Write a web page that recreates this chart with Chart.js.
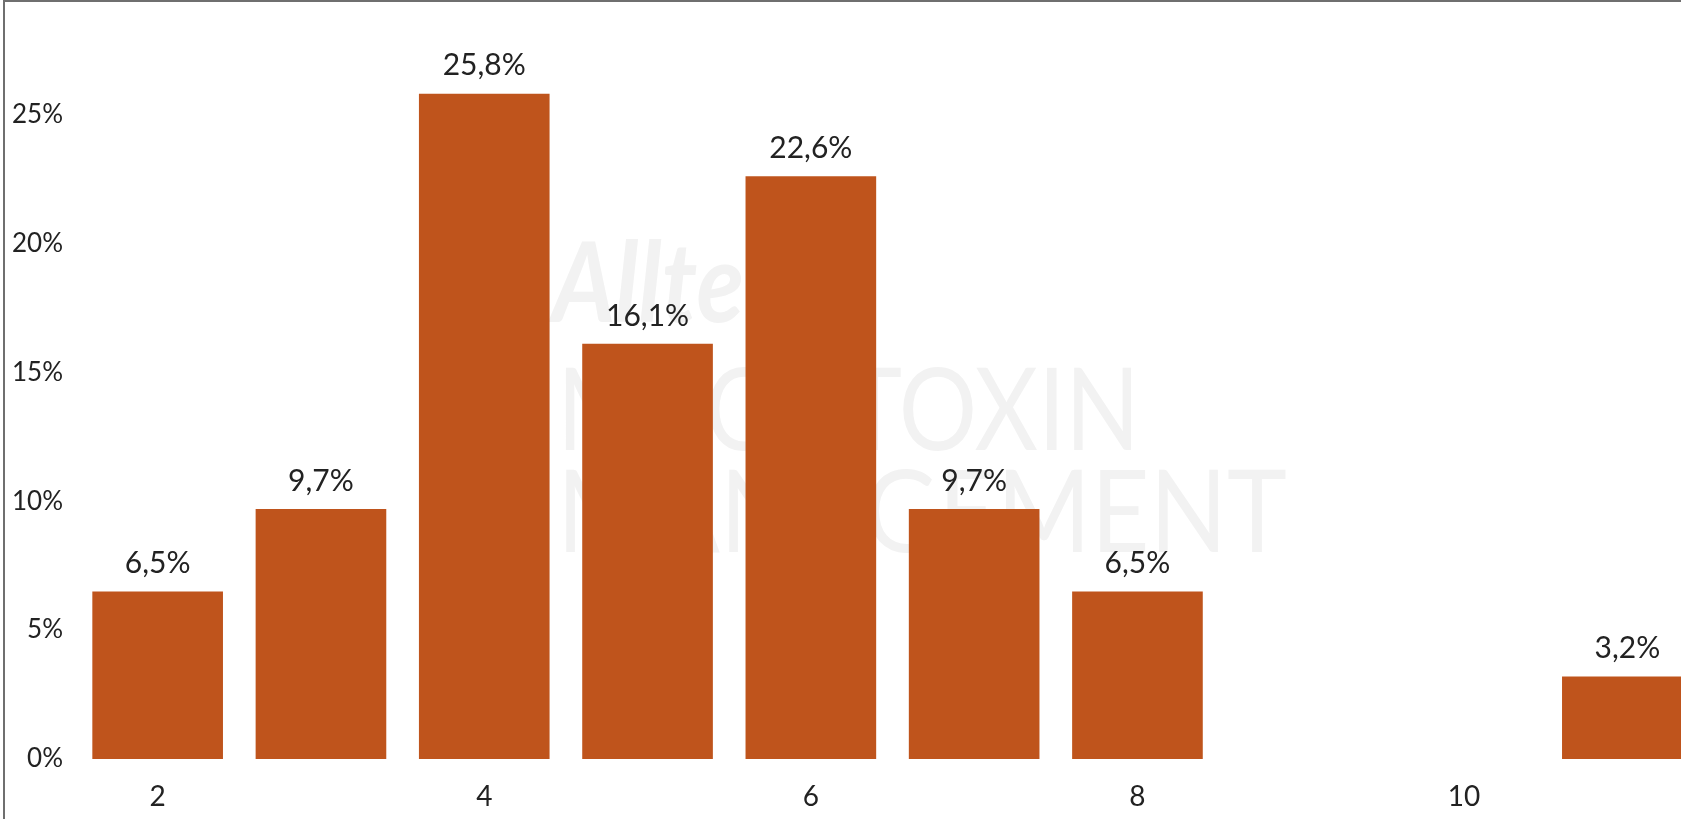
<!DOCTYPE html>
<html>
<head>
<meta charset="utf-8">
<script src="https://cdn.jsdelivr.net/npm/chart.js@4.4.0/dist/chart.umd.min.js"></script>
<style>
  html, body { margin: 0; padding: 0; background: #fff; overflow: hidden; }
  #wrap { position: relative; width: 1681px; height: 819px; overflow: hidden; }
  #frame { position: absolute; left: 3px; top: 0; width: 1800px; height: 900px;
           border-left: 2px solid #6f6f6f; border-top: 2px solid #6f6f6f; pointer-events: none; }
  canvas { position: absolute; left: 0; top: 0; }
</style>
</head>
<body>
<div id="wrap">
  <canvas id="chart" width="1709" height="819"></canvas>
  <div id="frame"></div>
</div>
<script>
const categories = ['2', '3', '4', '5', '6', '7', '8', '9', '10', '11'];
const shares = [6.5, 9.7, 25.8, 16.1, 22.6, 9.7, 6.5, null, null, 3.2];
const xTickLabels = ['2', '4', '6', '8', '10'];
const yTicks = [0, 5, 10, 15, 20, 25];

const barColor = '#bf541c';
const textColor = '#222222';
const font = 'Lato';

// stretch a string to a given width
function fitText(ctx, text, x, y, width, part) {
  const w = ctx.measureText(part || text).width;
  ctx.save();
  ctx.translate(x, y);
  ctx.scale(width / w, 1);
  ctx.fillText(text, 0, 0);
  ctx.restore();
}

const watermark = {
  id: 'watermark',
  beforeDatasetsDraw(chart) {
    const ctx = chart.ctx;
    ctx.save();
    ctx.fillStyle = '#f2f2f2';
    ctx.textAlign = 'left';
    ctx.textBaseline = 'alphabetic';
    ctx.font = 'italic bold 112px ' + font;
    fitText(ctx, 'Alltech', 552, 322, 192, 'Allte');
    ctx.font = '114px ' + font;
    fitText(ctx, 'MYCOTOXIN', 557, 450, 583);
    fitText(ctx, 'MANAGEMENT', 557, 552, 730);
    ctx.restore();
  }
};

const barLabels = {
  id: 'barLabels',
  afterDatasetsDraw(chart) {
    const ctx = chart.ctx;
    const meta = chart.getDatasetMeta(0);
    ctx.save();
    ctx.font = '30px ' + font;
    ctx.fillStyle = textColor;
    ctx.textAlign = 'center';
    ctx.textBaseline = 'middle';
    meta.data.forEach((bar, i) => {
      const v = shares[i];
      if (v == null) return;
      ctx.fillText(v.toFixed(1).replace('.', ',') + '%', bar.x, bar.y - 28);
    });
    ctx.restore();
  }
};

new Chart(document.getElementById('chart'), {
  type: 'bar',
  data: {
    labels: categories,
    datasets: [{
      data: shares,
      backgroundColor: barColor,
      borderWidth: 0,
      categoryPercentage: 0.8,
      barPercentage: 1.0
    }]
  },
  options: {
    responsive: false,
    animation: false,
    layout: { padding: { top: 37, right: 0, bottom: 0, left: 0 } },
    plugins: { legend: { display: false }, tooltip: { enabled: false } },
    scales: {
      x: {
        grid: { display: false },
        border: { display: false },
        afterFit: (scale) => { scale.height = 60; },
        ticks: {
          autoSkip: false,
          maxRotation: 0,
          padding: 13,
          color: textColor,
          font: { family: font, size: 28 },
          callback: function (value, index) {
            const lbl = categories[index];
            return xTickLabels.includes(lbl) ? lbl : '';
          }
        }
      },
      y: {
        min: 0,
        max: 28,
        grid: { display: false },
        border: { display: false },
        afterFit: (scale) => { scale.width = 76; },
        afterBuildTicks: (scale) => { scale.ticks = yTicks.map(v => ({ value: v })); },
        ticks: {
          padding: 5,
          color: textColor,
          font: { family: font, size: 26 },
          callback: (v) => v + '%'
        }
      }
    }
  },
  plugins: [watermark, barLabels]
});
</script>
</body>
</html>
